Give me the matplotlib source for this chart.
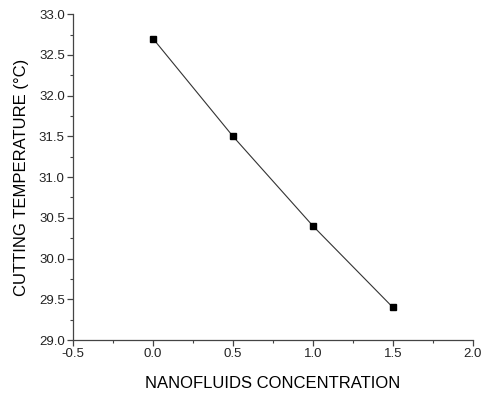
import matplotlib
matplotlib.use('Agg')
import matplotlib.pyplot as plt
from matplotlib.ticker import MultipleLocator

# data
concentration = [0.0, 0.5, 1.0, 1.5]
temperature = [32.7, 31.5, 30.4, 29.4]

plt.rcParams['font.family'] = ['Liberation Sans', 'DejaVu Sans']

fig = plt.figure(figsize=(4.84, 3.94), dpi=100)
ax = fig.add_axes([0.151, 0.137, 0.826, 0.827])

ax.plot(concentration, temperature, color='#333333', linewidth=0.8,
        marker='s', markersize=5, markerfacecolor='black', markeredgecolor='black')

ax.set_xlim(-0.5, 2.0)
ax.set_ylim(29.0, 33.0)
ax.xaxis.set_major_locator(MultipleLocator(0.5))
ax.xaxis.set_minor_locator(MultipleLocator(0.25))
ax.yaxis.set_major_locator(MultipleLocator(0.5))
ax.yaxis.set_minor_locator(MultipleLocator(0.25))
ax.xaxis.set_major_formatter(plt.FormatStrFormatter('%.1f'))
ax.yaxis.set_major_formatter(plt.FormatStrFormatter('%.1f'))

for side in ['top', 'right']:
    ax.spines[side].set_visible(False)
for side in ['left', 'bottom']:
    ax.spines[side].set_color('#444444')
    ax.spines[side].set_linewidth(0.9)

ax.tick_params(which='major', direction='out', length=4, width=0.9,
               color='#444444', labelsize=9.5, labelcolor='#222222', pad=2)
ax.tick_params(which='minor', direction='out', length=2.5, width=0.8, color='#444444')

ax.set_xlabel('NANOFLUIDS CONCENTRATION', fontsize=12, labelpad=11)
ax.set_ylabel('CUTTING TEMPERATURE (°C)', fontsize=12, labelpad=7)

plt.savefig('out.png', dpi=100)
